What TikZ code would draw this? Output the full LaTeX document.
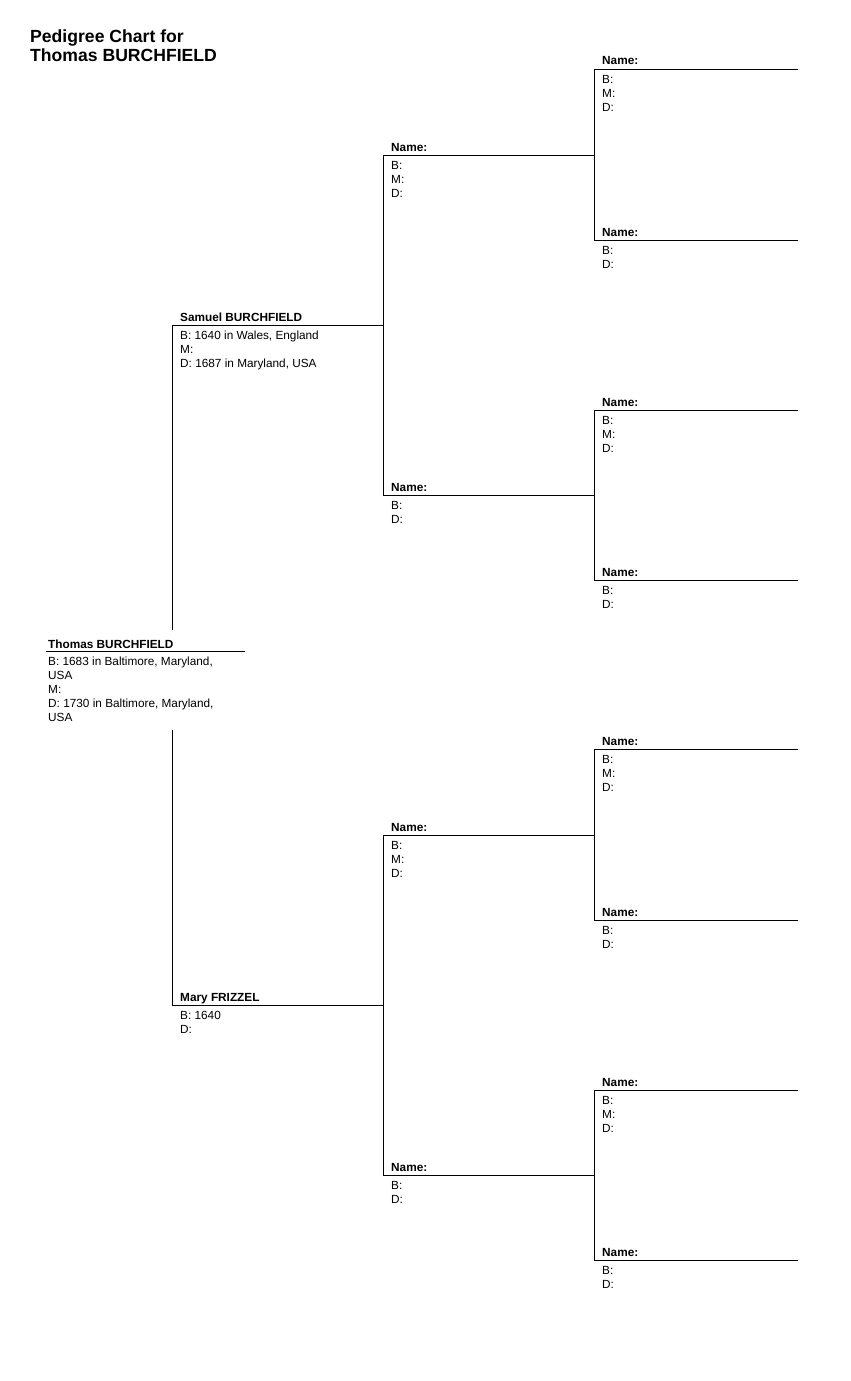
\documentclass[tikz,border=0pt]{standalone}
\usepackage{fontspec}
\setmainfont{Liberation Sans}
\usetikzlibrary{positioning}

\tikzset{
  pname/.style={font=\fontsize{11.8}{14}\selectfont\bfseries, anchor=base west, inner sep=0pt},
  pinfo/.style={font=\fontsize{11.8}{14}\selectfont, anchor=north west, inner sep=0pt, align=left},
  rule/.style={line width=0.9pt, line cap=rect},
}

\begin{document}
\begin{tikzpicture}[x=1pt, y=-1pt]
    \useasboundingbox (0,0) rectangle (851,1381);

    % title
    \node[anchor=north west, inner sep=0pt, align=left,
          font=\fontsize{17.6}{19}\selectfont\bfseries] (title) at (30,30)
      {Pedigree Chart for\\Thomas BURCHFIELD};

    % generation 4
    \foreach \n/\y in {8/69,10/410,12/749,14/1090} {
      \coordinate (p\n) at (594,\y);
      \draw[rule] (p\n) -- ++(204,0);
      \node[pname] (name\n) at (602,\y-4) {Name:};
      \node[pinfo] (info\n) at (602,\y+6) {B:\\M:\\D:};
    }
    \foreach \n/\y in {9/240,11/580,13/920,15/1260} {
      \coordinate (p\n) at (594,\y);
      \draw[rule] (p\n) -- ++(204,0);
      \node[pname] (name\n) at (602,\y-4) {Name:};
      \node[pinfo] (info\n) at (602,\y+6) {B:\\D:};
    }

    % generation 3
    \foreach \n/\y in {4/155,6/835} {
      \coordinate (p\n) at (383,\y);
      \node[pname] (name\n) at (391,\y-4) {Name:};
      \node[pinfo] (info\n) at (391,\y+6) {B:\\M:\\D:};
    }
    \foreach \n/\y in {5/495,7/1175} {
      \coordinate (p\n) at (383,\y);
      \node[pname] (name\n) at (391,\y-4) {Name:};
      \node[pinfo] (info\n) at (391,\y+6) {B:\\D:};
    }
    \foreach \a/\b in {4/8,5/10,6/12,7/14} \draw[rule] (p\a) -- (p\b |- p\a);
    \foreach \a/\b in {8/9,10/11,12/13,14/15} \draw[rule] (p\a) -- (p\b);

    % parents
    \coordinate (p2) at (172,325);
    \node[pname] (name2) at (180,321) {Samuel BURCHFIELD};
    \node[pinfo] (info2) at (180,331) {B: 1640 in Wales, England\\M:\\D: 1687 in Maryland, USA};
    \coordinate (p3) at (172,1005);
    \node[pname] (name3) at (180,1001) {Mary FRIZZEL};
    \node[pinfo] (info3) at (180,1011) {B: 1640\\D:};
    \foreach \a in {2,3} \draw[rule] (p\a) -- (p4 |- p\a);
    \draw[rule] (p4) -- (p5);
    \draw[rule] (p6) -- (p7);

    % root person
    \coordinate (p1) at (46,651);
    \draw[rule] (p1) -- ++(199,0);
    \node[pname] (name1) at (48,648) {Thomas BURCHFIELD};
    \node[pinfo] (info1) at (48,657)
      {B: 1683 in Baltimore, Maryland,\\USA\\M:\\D: 1730 in Baltimore, Maryland,\\USA};
    \coordinate (up1) at (172,630);
    \coordinate (down1) at (172,730);
    \draw[rule] (p2) -- (up1);
    \draw[rule] (down1) -- (p3);
\end{tikzpicture}
\end{document}
